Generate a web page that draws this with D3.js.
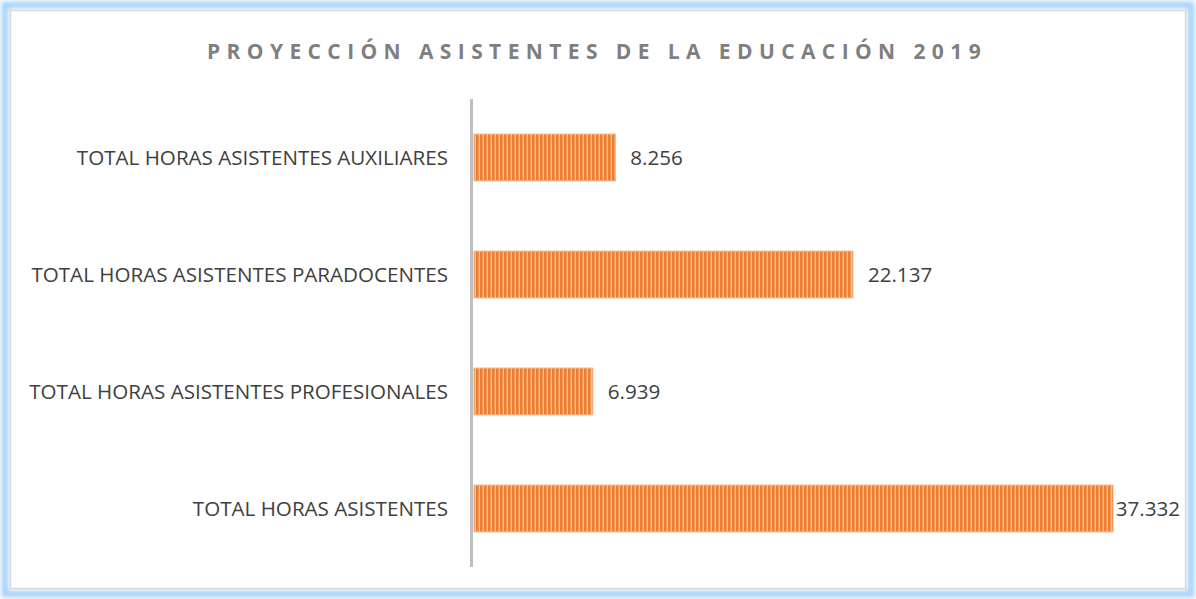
<!DOCTYPE html>
<html><head><meta charset="utf-8">
<script src="https://cdn.jsdelivr.net/npm/d3@7"></script>
<style>body{margin:0;background:#fff;}svg{display:block;}</style>
</head><body>
<script>
const categories = ["TOTAL HORAS ASISTENTES AUXILIARES","TOTAL HORAS ASISTENTES PARADOCENTES","TOTAL HORAS ASISTENTES PROFESIONALES","TOTAL HORAS ASISTENTES"];
const values = [8256, 22137, 6939, 37332];
const valueLabels = ["8.256","22.137","6.939","37.332"];
const title = "PROYECCIÓN ASISTENTES DE LA EDUCACIÓN 2019";

const W = 1196, H = 599;
const svg = d3.select("body").append("svg").attr("width", W).attr("height", H);
const defs = svg.append("defs");
const blur = defs.append("filter").attr("id","glow").attr("x","-5%").attr("y","-5%").attr("width","110%").attr("height","110%");
blur.append("feGaussianBlur").attr("stdDeviation", 2);
const pat = defs.append("pattern").attr("id","stripes").attr("patternUnits","userSpaceOnUse").attr("width",4).attr("height",4);
pat.append("rect").attr("width",4).attr("height",4).attr("fill","#f6bf94");
pat.append("rect").attr("width",2.6).attr("height",4).attr("fill","#ed7d31");

// frame
svg.append("rect").attr("x",5).attr("y",5).attr("width",W-10).attr("height",H-10)
  .attr("fill","none").attr("stroke","#a9d4fb").attr("stroke-width",7).attr("filter","url(#glow)");
svg.append("rect").attr("x",10.5).attr("y",10.5).attr("width",W-21).attr("height",H-21)
  .attr("fill","#fff").attr("stroke","#d9d9d9").attr("stroke-width",1.5);

svg.append("text").attr("x",597).attr("y",59).attr("text-anchor","middle")
  .attr("font-family","'Open Sans', sans-serif").attr("font-weight","bold").attr("font-size",21)
  .attr("letter-spacing","6.4px").attr("fill","#7f7f7f").text(title);

const x0 = 474, x1 = 1113;
const x = d3.scaleLinear().domain([0, d3.max(values)]).range([x0, x1]);
const y = d3.scaleBand().domain(categories).range([99, 567]).paddingInner(0.6).paddingOuter(0.3);

svg.selectAll("rect.bar").data(categories).join("rect").attr("class","bar")
  .attr("x", x(0)).attr("y", d => y(d)).attr("width", (d,i) => x(values[i]) - x(0)).attr("height", y.bandwidth())
  .attr("fill","url(#stripes)").attr("stroke","#f4b183").attr("stroke-width",1);

// axis line
svg.append("line").attr("x1",471.5).attr("x2",471.5).attr("y1",99).attr("y2",567)
  .attr("stroke","#bfbfbf").attr("stroke-width",3);

svg.selectAll("text.cat").data(categories).join("text").attr("class","cat")
  .attr("x",448).attr("y", d => y(d) + y.bandwidth()/2 + 7).attr("text-anchor","end")
  .attr("font-family","'Open Sans', sans-serif").attr("font-size",20.6).attr("fill","#404040").text(d => d);

const vl = svg.selectAll("text.val").data(categories).join("text").attr("class","val")
  .attr("y", d => y(d) + y.bandwidth()/2 + 7)
  .attr("font-family","'Open Sans', sans-serif").attr("font-size",20.6).attr("fill","#404040")
  .text((d,i) => valueLabels[i]);
vl.each(function(d,i){
  const w = this.getComputedTextLength();
  const xx = Math.max(x(values[i]) + 1, Math.min(x(values[i]) + 15, 1180 - w));
  d3.select(this).attr("x", xx);
});
</script>
</body></html>
